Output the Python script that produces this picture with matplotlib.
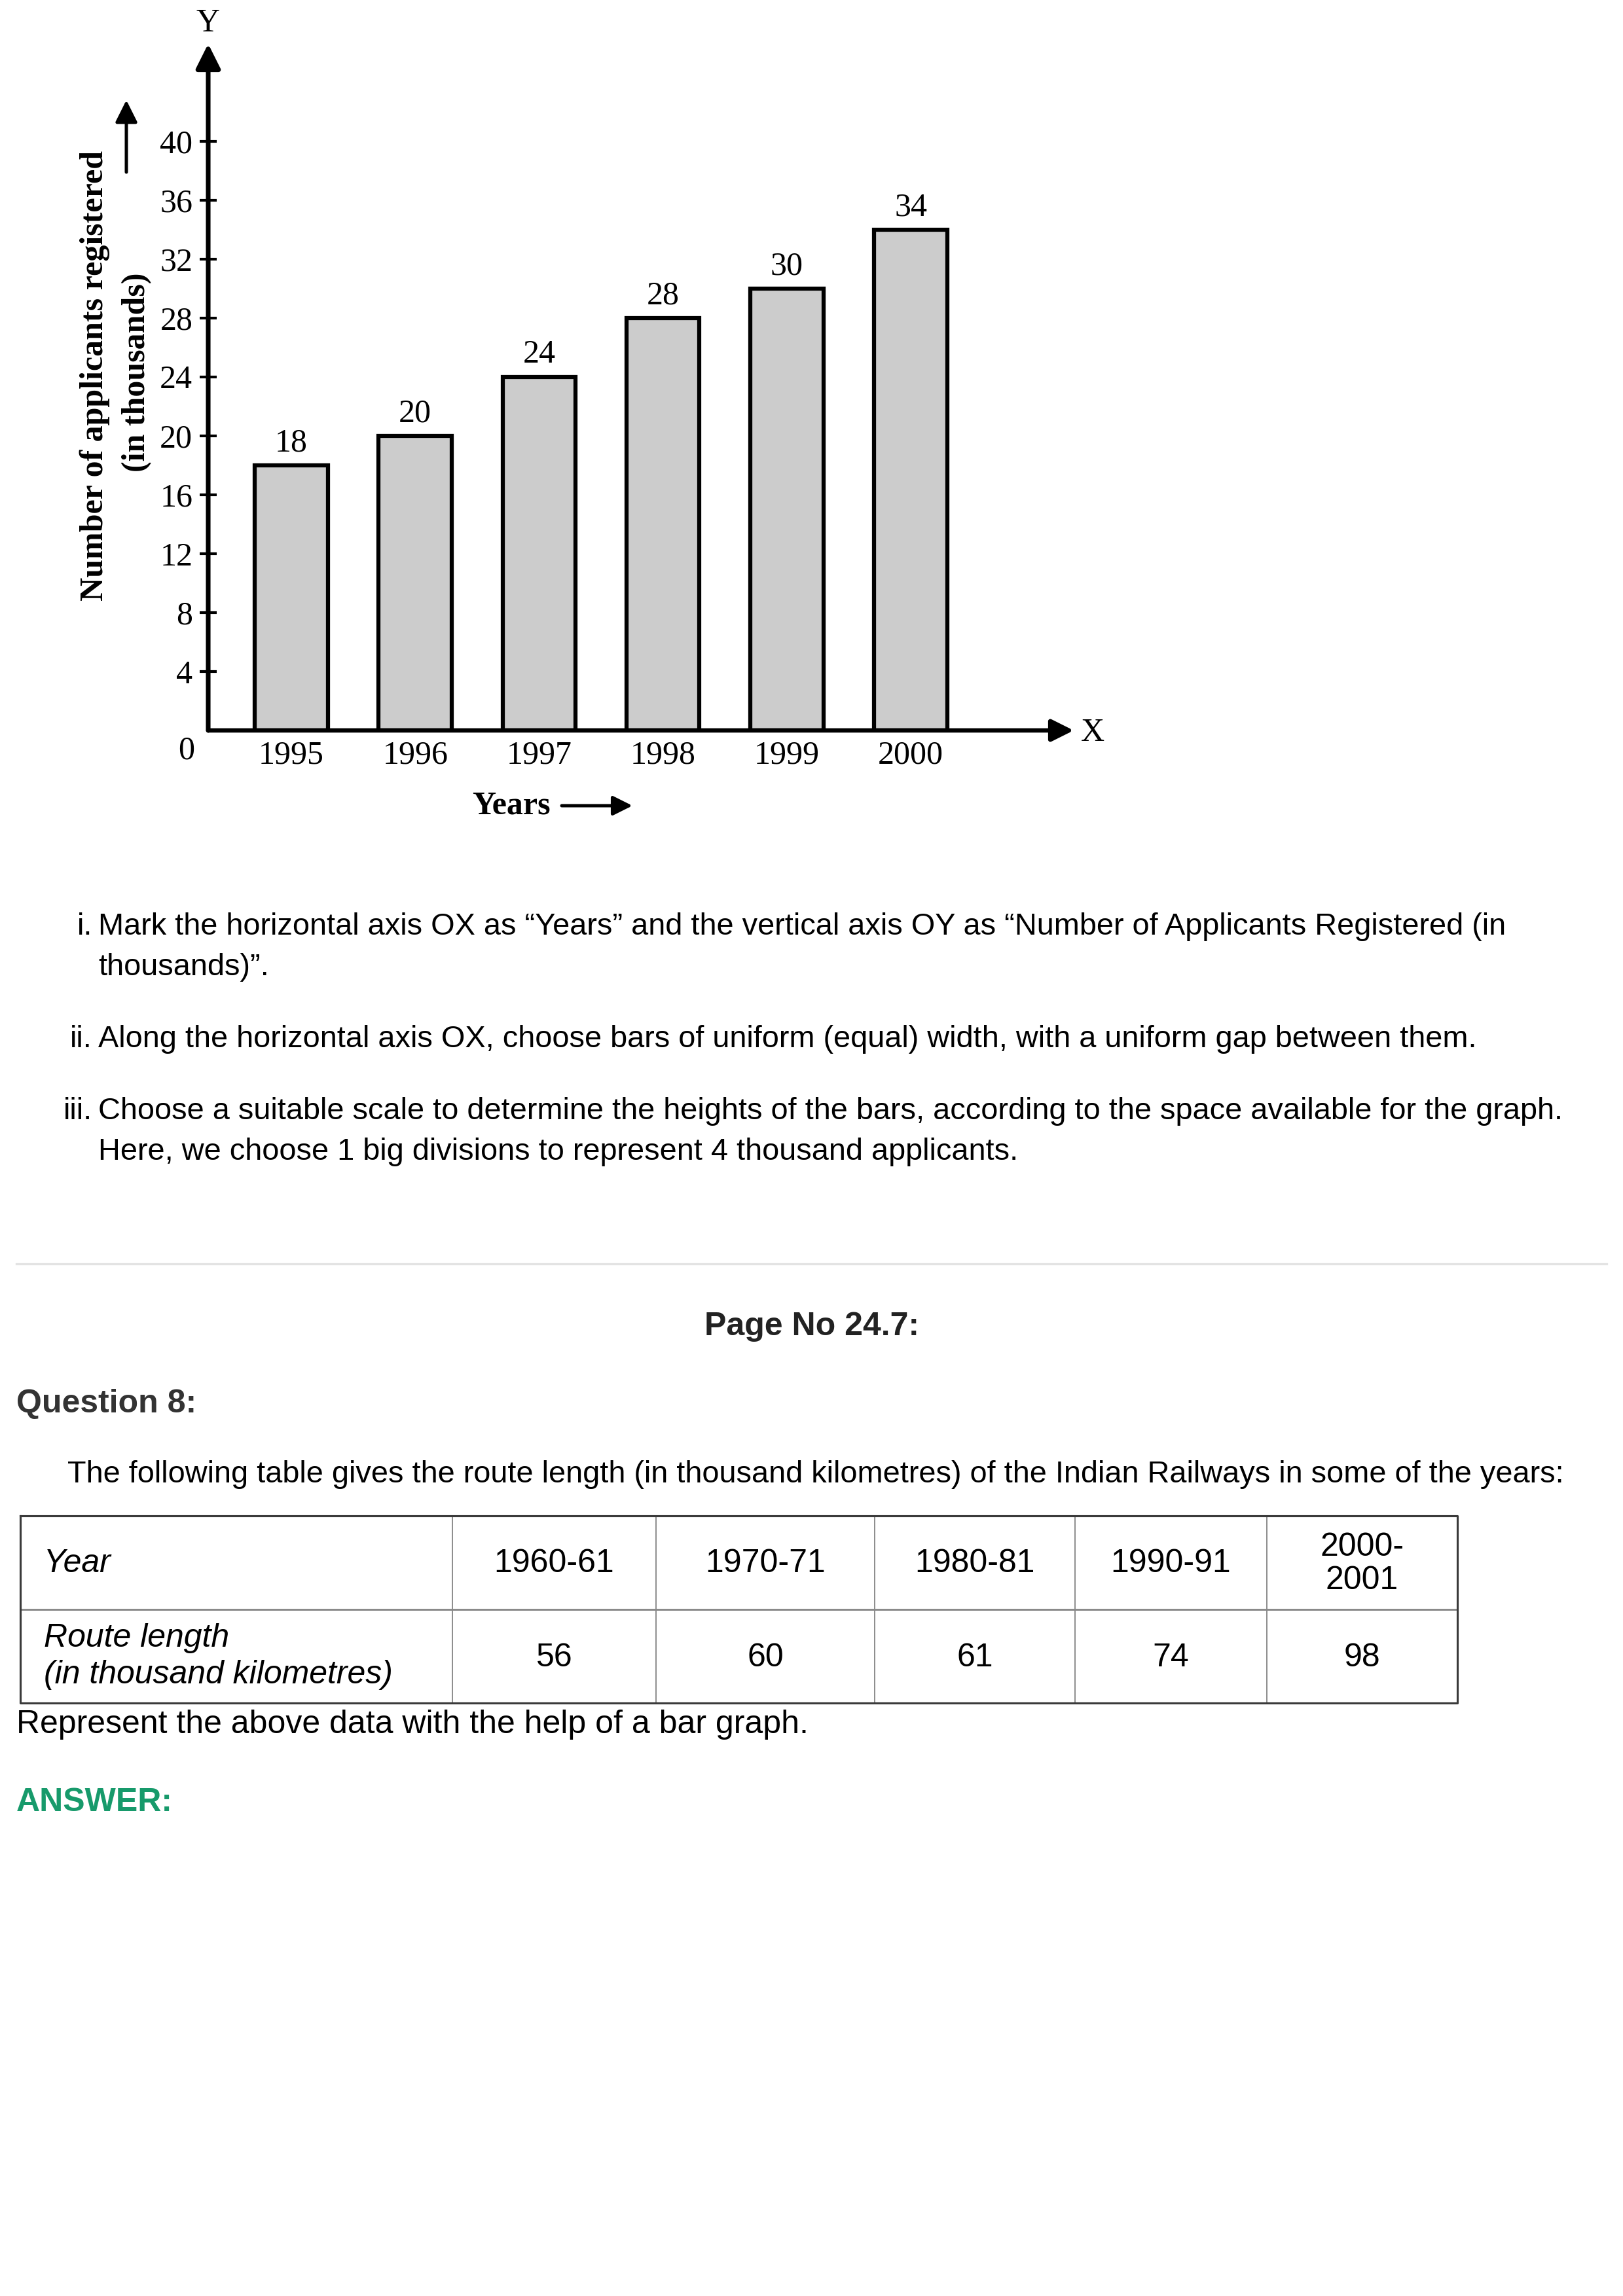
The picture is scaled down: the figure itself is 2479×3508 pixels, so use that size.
import matplotlib
matplotlib.use("Agg")
import matplotlib.pyplot as plt

# ---------------- data ----------------
years = ["1995", "1996", "1997", "1998", "1999", "2000"]
applicants = [18, 20, 24, 28, 30, 34]
ytick_values = [4, 8, 12, 16, 20, 24, 28, 32, 36, 40]

table_years = ["1960-61", "1970-71", "1980-81", "1990-91", "2000-\n2001"]
route_length = [56, 60, 61, 74, 98]

steps = [
    ("i.", "Mark the horizontal axis OX as \u201cYears\u201d and the vertical axis OY as \u201cNumber of Applicants Registered (in"),
    ("", "thousands)\u201d."),
    ("ii.", "Along the horizontal axis OX, choose bars of uniform (equal) width, with a uniform gap between them."),
    ("iii.", "Choose a suitable scale to determine the heights of the bars, according to the space available for the graph."),
    ("", "Here, we choose 1 big divisions to represent 4 thousand applicants."),
]

# ---------------- layout ----------------
W, H = 2479, 3508
DPI = 300
SERIF = "Liberation Serif"
SANS = "Liberation Sans"
DY = 4  # vertical text nudge for page text (px)

fig = plt.figure(figsize=(W / DPI, H / DPI), dpi=DPI)
fig.patch.set_facecolor("white")

# page axes in pixel coordinates (y downwards)
page = fig.add_axes([0, 0, 1, 1])
page.set_xlim(0, W)
page.set_ylim(H, 0)
page.axis("off")

# chart axes
ax_left, ax_right, ax_bottom, ax_top = 318, 1640, 1116, 67
ax = fig.add_axes([ax_left / W, 1 - ax_bottom / H,
                   (ax_right - ax_left) / W, (ax_bottom - ax_top) / H])
ax.set_facecolor("none")
xmin, xmax = -0.671, 6.316
ymin, ymax = 0, 46.6
ax.set_xlim(xmin, xmax)
ax.set_ylim(ymin, ymax)
for s in ax.spines.values():
    s.set_visible(False)

CH = 12  # chart font size
xpos = list(range(len(years)))
ax.bar(xpos, applicants, width=0.59, color="#cccccc", edgecolor="black",
       linewidth=1.5, zorder=2)
for x, v in zip(xpos, applicants):
    ax.annotate(str(v), xy=(x, v), xytext=(0, 2.5), textcoords="offset points",
                ha="center", va="bottom", fontsize=CH, family=SERIF)

# axes with arrows
ax.annotate("", xy=(xmax, 0), xytext=(xmin, 0),
            arrowprops=dict(arrowstyle="-|>", color="black", lw=1.6,
                            mutation_scale=17, shrinkA=0, shrinkB=0),
            annotation_clip=False, zorder=3)
ax.annotate("", xy=(xmin, ymax), xytext=(xmin, 0),
            arrowprops=dict(arrowstyle="-|>", color="black", lw=1.7,
                            mutation_scale=19, shrinkA=0, shrinkB=0),
            annotation_clip=False, zorder=3)
ax.annotate("Y", xy=(xmin, ymax), xytext=(0, 4.5), textcoords="offset points",
            ha="center", va="baseline", fontsize=CH, family=SERIF,
            annotation_clip=False)
ax.annotate("X", xy=(xmax, 0), xytext=(2.5, -1), textcoords="offset points",
            ha="left", va="center", fontsize=CH, family=SERIF,
            annotation_clip=False)
ax.annotate("0", xy=(xmin, 0), xytext=(-5, -2), textcoords="offset points",
            ha="right", va="top", fontsize=CH, family=SERIF,
            annotation_clip=False)

ax.set_yticks(ytick_values)
ax.set_yticklabels([str(v) for v in ytick_values], family=SERIF, fontsize=CH)
ax.tick_params(axis="y", direction="inout", length=6.2, width=1.0, pad=2.6,
               colors="black")
ax.set_xticks(xpos)
ax.set_xticklabels(years, family=SERIF, fontsize=CH)
ax.tick_params(axis="x", length=0, pad=3.5)

# axis titles (page coordinates)
page.text(145, 574, "Number of applicants registered", rotation=90,
          ha="center", va="center", fontsize=12, fontweight="bold", family=SERIF)
page.text(209, 569, "(in thousands)", rotation=90,
          ha="center", va="center", fontsize=12, fontweight="bold", family=SERIF)
page.annotate("", xy=(193, 153), xytext=(193, 263),
              arrowprops=dict(arrowstyle="-|>", color="black", lw=1.2,
                              mutation_scale=17, shrinkA=0, shrinkB=0))
page.text(781, 1231, "Years", ha="center", va="center", fontsize=12,
          fontweight="bold", family=SERIF)
page.annotate("", xy=(966, 1231), xytext=(858, 1231),
              arrowprops=dict(arrowstyle="-|>", color="black", lw=1.2,
                              mutation_scale=15, shrinkA=0, shrinkB=0))

# ---------------- text section ----------------
BODY = 11.25
TABLE = 12
line_y = [1412, 1474, 1584, 1694, 1756]
for (marker, txt), y in zip(steps, line_y):
    if marker:
        page.text(141, y + DY, marker, ha="right", va="center", fontsize=BODY,
                  family=SANS, color="black")
    page.text(150, y + DY, txt, ha="left", va="center", fontsize=BODY,
              family=SANS, color="black")

page.plot([25, 2454], [1931, 1931], color="#e3e3e3", lw=0.8)

page.text(1240, 2023 + DY, "Page No 24.7:", ha="center", va="center", fontsize=12,
          fontweight="bold", family=SANS, color="#222222")
page.text(25, 2141 + DY, "Question 8:", ha="left", va="center", fontsize=12,
          fontweight="bold", family=SANS, color="#333333")
page.text(103, 2249 + DY,
          "The following table gives the route length (in thousand kilometres) of the Indian Railways in some of the years:",
          ha="left", va="center", fontsize=BODY, family=SANS, color="black")

# table
col_edges = [31, 691, 1002, 1336, 1642, 1935, 2226]
row_edges = [2316, 2459, 2602]
inner_c, outer_c = "#888888", "#3a3a3a"
for x in col_edges[1:-1]:
    page.plot([x, x], [row_edges[0], row_edges[-1]], color=inner_c, lw=0.45)
page.plot([col_edges[0], col_edges[-1]], [row_edges[1], row_edges[1]],
          color=inner_c, lw=0.7)
page.plot([col_edges[0], col_edges[-1], col_edges[-1], col_edges[0], col_edges[0]],
          [row_edges[0], row_edges[0], row_edges[-1], row_edges[-1], row_edges[0]],
          color=outer_c, lw=0.75)

r1 = (row_edges[0] + row_edges[1]) / 2 + 2
r2 = (row_edges[1] + row_edges[2]) / 2 + 2
page.text(67, r1, "Year", ha="left", va="center", fontsize=TABLE,
          family=SANS, style="italic")
page.text(67, 2499 + DY, "Route length", ha="left", va="center", fontsize=TABLE,
          family=SANS, style="italic")
page.text(67, 2555 + DY, "(in thousand kilometres)", ha="left", va="center",
          fontsize=TABLE, family=SANS, style="italic")
for i, (yr, val) in enumerate(zip(table_years, route_length)):
    cx = (col_edges[i + 1] + col_edges[i + 2]) / 2
    page.text(cx, r1, yr, ha="center", va="center", fontsize=TABLE,
              family=SANS, linespacing=1.15, multialignment="center")
    page.text(cx, r2, str(val), ha="center", va="center", fontsize=TABLE,
              family=SANS)

page.text(25, 2631 + DY, "Represent the above data with the help of a bar graph.",
          ha="left", va="center", fontsize=12, family=SANS, color="black")
page.text(25, 2750 + DY, "ANSWER:", ha="left", va="center", fontsize=12,
          fontweight="bold", family=SANS, color="#179a6b")

fig.savefig("out.png", dpi=DPI, facecolor="white")
